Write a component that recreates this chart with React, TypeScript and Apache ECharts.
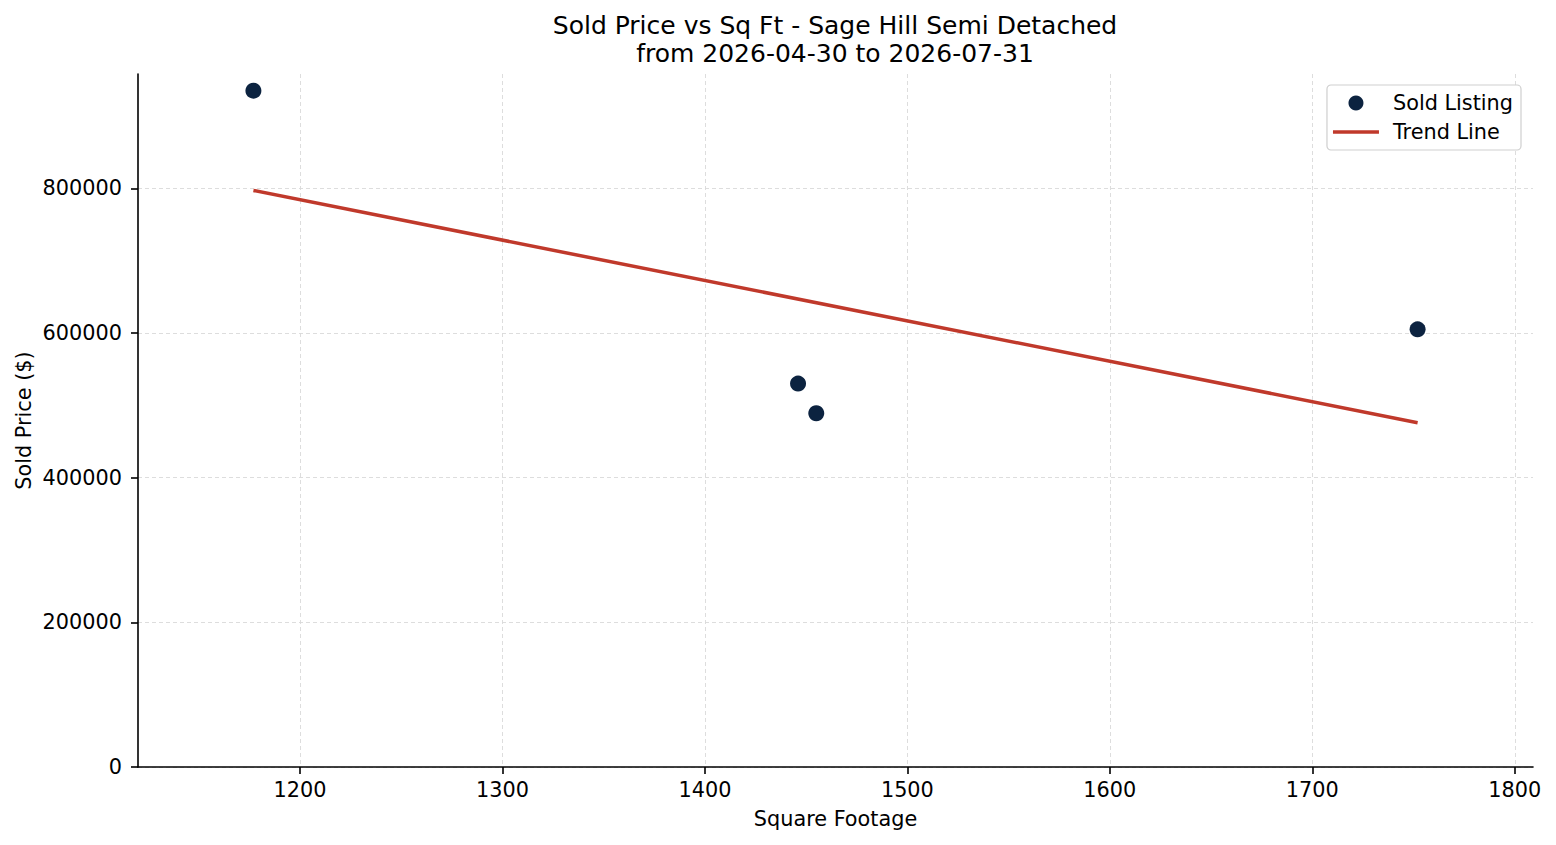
import React, { useEffect, useRef } from 'react';
import * as echarts from 'echarts';

// sold listings (square footage vs sold price)
const sqft = [1177, 1446, 1455, 1752];
const soldPrice = [935000, 530000, 489000, 605000];

// trend line end points
const trendSqft = [1177, 1752];
const trendPrice = [797000, 476000];

const xTicks = [1200, 1300, 1400, 1500, 1600, 1700, 1800];
const yTicks = [0, 200000, 400000, 600000, 800000];

const FONT = 'DejaVu Sans';
const FS = 20.8;

const App: React.FC = () => {
  const chartRef = useRef<HTMLDivElement | null>(null);

  useEffect(() => {
    if (!chartRef.current) return;
    const chart = echarts.init(chartRef.current, undefined, { renderer: 'svg' });

    const axisCommon = {
      axisLine: { show: true, onZero: false, lineStyle: { color: '#000', width: 1.6 } },
      axisTick: { show: true, length: 7, lineStyle: { color: '#000', width: 1.6 } },
      splitLine: { show: true, lineStyle: { color: '#d9d9d9', width: 0.9, type: [4, 3] } },
    };

    const option: echarts.EChartsOption = {
      animation: false,
      backgroundColor: '#fff',
      textStyle: { fontFamily: FONT },
      title: {
        text: 'Sold Price vs Sq Ft - Sage Hill Semi Detached\nfrom 2026-04-30 to 2026-07-31',
        left: 835,
        top: 11,
        padding: 0,
        textAlign: 'center',
        textStyle: { fontFamily: FONT, fontSize: 25, fontWeight: 'normal', color: '#000', lineHeight: 28.5 },
      },
      legend: {
        orient: 'vertical',
        right: 35,
        top: 85,
        padding: [7, 8, 7, 6],
        itemGap: 7,
        itemWidth: 46,
        itemHeight: 15,
        borderColor: '#cfcfcf',
        borderWidth: 1.2,
        borderRadius: 4,
        backgroundColor: '#fff',
        textStyle: { fontFamily: FONT, fontSize: FS, color: '#000', lineHeight: 22, padding: [0, 0, 0, 9] },
        data: [
          { name: 'Sold Listing', icon: 'circle' },
          { name: 'Trend Line', icon: 'path://M0,0L46,0L46,3.5L0,3.5Z' },
        ],
      },
      grid: { left: 138, right: 23, top: 74, bottom: 78, outerBoundsMode: 'none' } as any,
      xAxis: {
        type: 'value',
        min: 1120,
        max: 1809,
        name: 'Square Footage',
        nameLocation: 'middle',
        nameGap: 41,
        nameMoveOverlap: false,
        nameTextStyle: { fontFamily: FONT, fontSize: FS, color: '#000' },
        ...axisCommon,
        axisTick: { ...axisCommon.axisTick, customValues: xTicks },
        axisLabel: {
          customValues: xTicks,
          margin: 12,
          fontFamily: FONT,
          fontSize: FS,
          color: '#000',
          formatter: (v: number) => String(v),
        },
      } as any,
      yAxis: {
        type: 'value',
        min: 0,
        max: 958000,
        name: 'Sold Price ($)',
        nameLocation: 'middle',
        nameGap: 104,
        nameMoveOverlap: false,
        nameTextStyle: { fontFamily: FONT, fontSize: FS, color: '#000' },
        ...axisCommon,
        axisTick: { ...axisCommon.axisTick, customValues: yTicks },
        axisLabel: {
          customValues: yTicks,
          margin: 16,
          fontFamily: FONT,
          fontSize: FS,
          color: '#000',
          formatter: (v: number) => String(v),
        },
      } as any,
      series: [
        {
          name: 'Trend Line',
          type: 'line',
          data: trendSqft.map((x, i) => [x, trendPrice[i]]),
          symbol: 'none',
          lineStyle: { color: '#c0392b', width: 3.5 },
          itemStyle: { color: '#c0392b' },
          z: 2,
        },
        {
          name: 'Sold Listing',
          type: 'scatter',
          data: sqft.map((x, i) => [x, soldPrice[i]]),
          symbol: 'circle',
          symbolSize: 16,
          itemStyle: { color: '#0c2340', opacity: 1 },
          z: 3,
        },
      ],
    };

    chart.setOption(option);
    return () => {
      chart.dispose();
    };
  }, []);

  return <div ref={chartRef} style={{ position: 'fixed', left: 0, top: 0, width: 1556, height: 845 }} />;
};

export default App;
